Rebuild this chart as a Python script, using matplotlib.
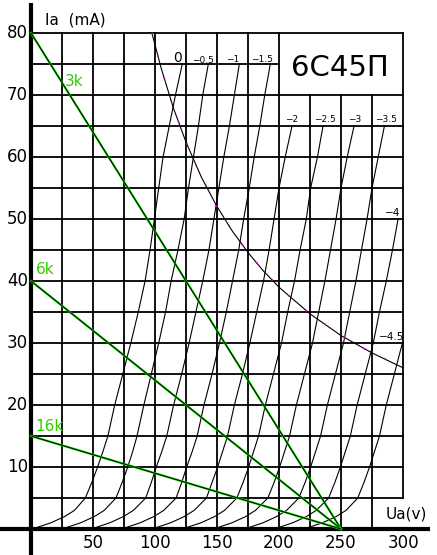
import matplotlib
matplotlib.use('Agg')
import matplotlib.pyplot as plt
import numpy as np

# anode current (mA) at which the curves were read
ia = [0, 1, 2, 3, 5, 7.5, 10, 12.5, 15, 20, 25, 30, 35, 40, 45, 50, 55, 60, 65, 70, 75]

# anode voltage (V) of each grid-voltage curve at those currents
ua_0    = [1, 16, 27, 35, 43.8, 49, 53.7, 58, 62, 67.5, 74, 80.5, 86.5, 92, 96, 99.5, 103, 106.5, 111.5, 116.5, 122]
ua_m05  = [25, 40, 51, 59, 68.5, 73.5, 78, 82, 85.5, 91, 97, 103, 108.5, 113, 118.5, 123.5, 127, 131, 135, 138.5, 143]
ua_m1   = [48.5, 63.5, 74.5, 82.5, 92.5, 97, 101, 105.5, 109.5, 115, 121.5, 127.5, 133, 138.5, 143.5, 147.5, 151.5, 155.5, 160, 164, 168]
ua_m15  = [73, 88, 99, 107, 117, 121.5, 125.5, 130, 134, 139.5, 146, 152, 157.5, 162.5, 167.5, 171.5, 176, 180, 184.5, 188.5, 193]
ua_m2   = [97.5, 112.5, 123.5, 131.5, 141.5, 146, 150.5, 154.5, 158.5, 164, 170.5, 176.5, 182, 187.5, 192, 196, 200, 205, 210.5]
ua_m25  = [122, 137, 148, 156, 166, 171, 175.5, 179.5, 183.5, 189, 195.5, 202, 207, 212.5, 217, 222, 225.5, 231, 235.5]
ua_m3   = [147, 162, 173, 181, 191, 196, 200.5, 204.5, 208.5, 214, 220.5, 227, 232, 237, 241.5, 246, 250, 255, 260.5]
ua_m35  = [172, 187, 198, 206, 216, 221, 225.5, 229.5, 233.5, 239, 245.5, 252, 257, 262, 266.5, 271, 275, 280, 285]
ua_m4   = [196, 211, 222, 230, 240, 245, 249.5, 253.5, 257.5, 263, 269.5, 276, 281, 286.5, 291.5, 296]
ua_m45  = [220, 235, 246, 254, 263.5, 268.5, 273, 277, 281, 286.5, 293, 299.5]

grid_labels = ['0', '\u22120.5', '\u22121', '\u22121.5', '\u22122', '\u22122.5', '\u22123', '\u22123.5', '\u22124', '\u22124.5']

# load lines: (label, current at Ua=0, supply voltage)
load_names = ['3k', '6k', '16k']
load_i0 = [80, 40, 15]
load_ea = [250, 250, 250]

# max anode dissipation curve
pmax_ua = [97.5, 105, 115, 125, 137.5, 150, 162.5, 175, 187.5, 200, 225, 250, 275, 300]
pmax_ia = [80, 74.3, 67.8, 62.4, 56.7, 52, 48, 44.6, 41.6, 39, 34.7, 31.2, 28.4, 26]

x_ticks = [50, 100, 150, 200, 250, 300]
y_ticks = [10, 20, 30, 40, 50, 60, 70, 80]

fig = plt.figure(figsize=(4.37, 5.55), dpi=100)
ax = fig.add_axes([0, 0, 1, 1])
ax.set_xlim(-25, 327.4)
ax.set_ylim(-4.19, 85.32)
ax.axis('off')

glw = 1.3
# vertical grid
for v in range(25, 301, 25):
    if v in (225, 250, 275):
        ax.plot([v, v], [0, 70], color='k', lw=glw)
    elif v == 300:
        ax.plot([v, v], [5, 80], color='k', lw=glw)
    else:
        ax.plot([v, v], [0, 80], color='k', lw=glw)
# horizontal grid
for i in range(5, 81, 5):
    if i == 75:
        ax.plot([0, 200], [i, i], color='k', lw=glw)
    else:
        ax.plot([0, 300], [i, i], color='k', lw=glw)

# axes
ax.plot([0, 0], [-4.19, 84.8], color='k', lw=3, solid_capstyle='butt')
ax.plot([-25, 322], [0, 0], color='k', lw=3, solid_capstyle='butt')

# characteristics
curves = [ua_0, ua_m05, ua_m1, ua_m15, ua_m2, ua_m25, ua_m3, ua_m35, ua_m4, ua_m45]
for ua in curves:
    ax.plot(ua, ia[:len(ua)], color='k', lw=0.8)

label_pos = [(118.5, 76.0, 10), (138.7, 75.6, 6.5), (162.9, 75.7, 6.5), (186.3, 75.7, 6.5),
             (210.5, 66.1, 6.5), (237.1, 66.1, 6.5), (261.3, 66.1, 6.5), (286.3, 66.1, 6.5),
             (291.9, 51.0, 7.5), (291.1, 31.0, 7.5)]
for lab, (x, y, fs) in zip(grid_labels, label_pos):
    ax.text(x, y, lab, fontsize=fs, ha='center', va='center')

# Pmax hyperbola
ax.plot(pmax_ua, pmax_ia, color='k', lw=0.8)
ax.plot(pmax_ua, pmax_ia, color='#dd00dd', lw=1.3, dashes=(0.8, 12))

# load lines
for name, i0, ea in zip(load_names, load_i0, load_ea):
    ax.plot([0, ea], [i0, 0], color='#11dd00', lw=1.6)
    ax.plot([0, ea], [i0, 0], color='k', lw=0.7)
ax.text(34.7, 72.1, '3k', fontsize=11, color='#33cc00', ha='center', va='center')
ax.text(11.3, 41.8, '6k', fontsize=11, color='#33cc00', ha='center', va='center')
ax.text(14.5, 16.5, '16k', fontsize=11, color='#33cc00', ha='center', va='center')

# tick labels
for v in x_ticks:
    ax.text(v, -2.3, str(v), fontsize=12, ha='center', va='center')
for i in y_ticks:
    ax.text(-2.5, i, str(i), fontsize=12, ha='right', va='center')

ax.text(11.3, 82.1, 'Ia  (mA)', fontsize=11, ha='left', va='center')
ax.text(302.4, 2.4, 'Ua(v)', fontsize=11, ha='center', va='center')
ax.text(249.2, 74.4, '6C45\u041f', fontsize=21, ha='center', va='center')

fig.savefig('out.png', dpi=100)
